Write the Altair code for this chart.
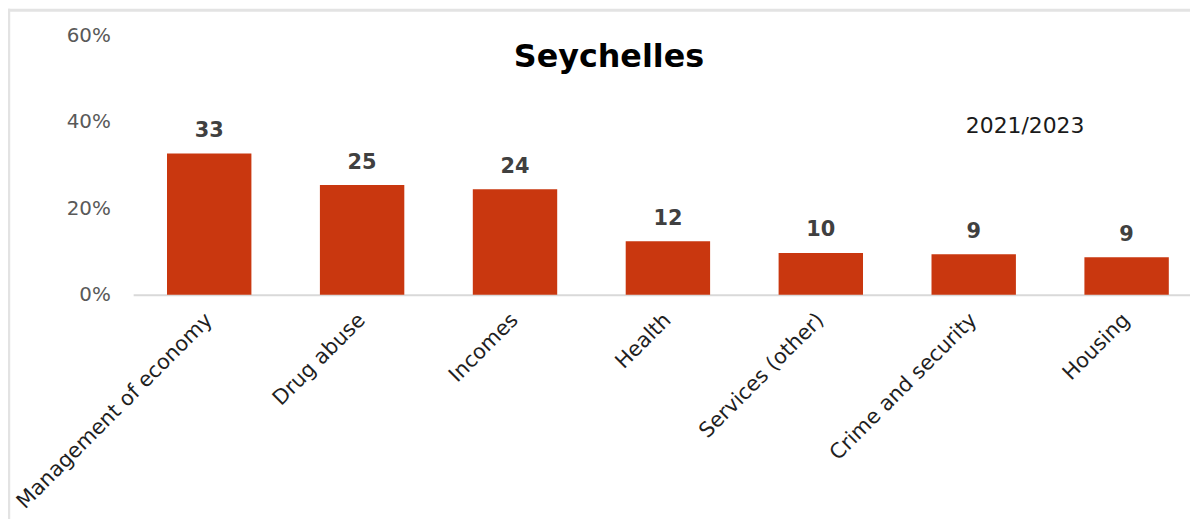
import altair as alt
import pandas as pd

categories = ["Management of economy", "Drug abuse", "Incomes", "Health",
              "Services (other)", "Crime and security", "Housing"]
values = [32.7, 25.4, 24.4, 12.4, 9.7, 9.4, 8.7]
y_ticks = [0, 20, 40, 60]
title_text = "Seychelles"
period_text = "2021/2023"

df = pd.DataFrame({"category": categories, "value": values})
one = pd.DataFrame({"a": [0]})

PLOT_W = 1064
PLOT_H = 261
FONT = "DejaVu Sans"

x_enc = alt.X(
    "category:N",
    sort=categories,
    title=None,
    scale=alt.Scale(paddingInner=0.448, paddingOuter=0.18, align=0.615, round=False),
    axis=alt.Axis(
        labelAngle=-45, labelAlign="right", labelBaseline="middle",
        labelPadding=22, labelFontSize=21, labelColor="#1f1f1f", labelFont=FONT,
        labelLimit=500, ticks=False, domainColor="#d9d9d9", domainWidth=2,
        grid=False,
    ),
)
y_enc = alt.Y(
    "value:Q",
    title=None,
    scale=alt.Scale(domain=[0, 60], nice=False),
    axis=alt.Axis(
        values=y_ticks, labelExpr="datum.value + '%'", labelFontSize=20,
        labelColor="#595959", labelFont=FONT, labelPadding=23, domain=False,
        ticks=False, grid=False,
    ),
)

bars = alt.Chart(df).mark_bar(color="#C9370F").encode(x=x_enc, y=y_enc)

labels = alt.Chart(df).mark_text(
    font=FONT, fontSize=21, fontWeight="bold", color="#404040",
    baseline="alphabetic", dy=-16.5,
).encode(x=x_enc, y=y_enc, text=alt.Text("value:Q", format=".0f"))

period = alt.Chart(one).mark_text(
    font=FONT, fontSize=22, color="#1a1a1a", align="center", baseline="middle",
).encode(x=alt.value(898), y=alt.value(91), text=alt.value(period_text))

border_top = alt.Chart(one).mark_rule(color="#e3e3e3", strokeWidth=3).encode(
    x=alt.value(-126), x2=alt.value(PLOT_W + 10), y=alt.value(-25.5)
)
border_left = alt.Chart(one).mark_rule(color="#e3e3e3", strokeWidth=2.5).encode(
    x=alt.value(-125), y=alt.value(-27), y2=alt.value(PLOT_H + 250)
)

chart = alt.layer(border_top, border_left, bars, labels, period).properties(
    width=PLOT_W,
    height=PLOT_H,
    background="white",
    title=alt.TitleParams(
        title_text, font=FONT, fontSize=32, fontWeight="bold", color="#000000",
        anchor="middle", frame="group", dx=-53, dy=92, offset=0,
        baseline="alphabetic",
    ),
    autosize=alt.AutoSizeParams(type="none"),
    padding={"left": 126, "top": 26, "right": 0, "bottom": 224},
).configure_view(stroke=None)

chart.save("out.html", embed_options={"renderer": "svg", "actions": False})
